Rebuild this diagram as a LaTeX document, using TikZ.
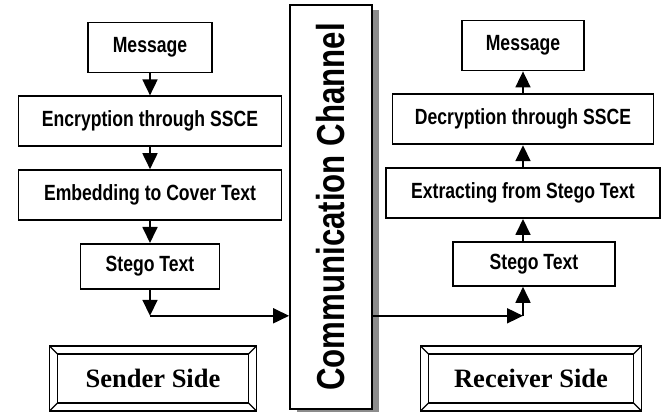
\documentclass[tikz,border=0pt]{standalone}
\usepackage{fontspec}
\setmainfont{Liberation Serif}
\newfontfamily\narrowsans[FakeStretch=0.8]{Liberation Sans}
\usetikzlibrary{arrows.meta, positioning, calc, shadows}

\begin{document}
\begin{tikzpicture}[
    x=1pt, y=1pt,
    box/.style={rectangle, draw=black, line width=1.8pt, minimum height=50pt, inner sep=2pt, align=center, font=\narrowsans\bfseries\fontsize{22}{24}\selectfont},
    arrow/.style={-{Triangle[length=16pt,width=15pt]}, line width=1.8pt},
    side/.style={rectangle, draw=black, line width=1.2pt, outer sep=0pt, minimum height=49pt, font=\bfseries\fontsize{26.5}{30}\selectfont},
    frame/.style={line width=1.2pt},
    channel/.style={rectangle, draw=black, fill=white, line width=1.8pt, minimum width=82pt, minimum height=404pt, font=\narrowsans\bfseries\fontsize{39}{40}\selectfont, drop shadow={shadow xshift=7pt, shadow yshift=-5pt, fill=black!45, opacity=1}}
]
\useasboundingbox (0,0) rectangle (664,412);

% ==========================================
% CANAL
% ==========================================
\node[channel] (comm) at (331,205) {\rotatebox{90}{Communication Channel}};

% ==========================================
% IZQUIERDA: EMISOR
% ==========================================
\node[box, minimum width=124pt] (msgL) at (150,364.5) {Message};
\node[box, minimum width=263pt, below=22pt of msgL] (encL) {Encryption through SSCE};
\node[box, minimum width=263pt, below=22pt of encL] (embL) {Embedding to Cover Text};
\node[box, minimum width=139pt, minimum height=45pt, below=22pt of embL] (stegoL) {Stego Text};

\foreach \i/\j in {msgL/encL,encL/embL,embL/stegoL} {
    \draw[arrow] (\i) -- (\j);
}

\coordinate (bendL) at ($(stegoL.south)+(0,-26)$);
\draw[arrow] (stegoL.south) -- (bendL);
\draw[arrow] (bendL) -- (bendL -| comm.west);

% ==========================================
% DERECHA: RECEPTOR
% ==========================================
\node[box, minimum width=122pt] (msgR) at (523,366.5) {Message};
\node[box, minimum width=261pt, below=22pt of msgR] (decR) {Decryption through SSCE};
\node[box, minimum width=274pt, below=22pt of decR] (extR) {Extracting from Stego Text};
\node[box, minimum width=162pt, minimum height=44pt, below=22pt of extR, xshift=11pt] (stegoR) {Stego Text};

\foreach \i/\j in {extR/decR,decR/msgR} {
    \draw[arrow] (\i) -- (\j);
}
\draw[arrow] (stegoR.north -| extR.south) -- (extR.south);

\coordinate (bendR) at (bendL -| extR.south);
\draw[arrow] (comm.east |- bendR) -- (bendR);
\draw[arrow] (bendR) -- (bendR |- stegoR.south);

% Marcos biselados
\node[side, minimum width=191pt] (sender) at (153,33.5) {Sender Side};
\node[side, minimum width=205pt] (receiver) at (531,33.5) {Receiver Side};
\foreach \n in {sender,receiver} {
    \draw[frame] ($(\n.south west)+(-8,-8)$) rectangle ($(\n.north east)+(8,8)$);
    \foreach \c/\dx/\dy in {north west/-8/8, north east/8/8, south east/8/-8, south west/-8/-8} {
        \draw[frame] (\n.\c) -- ++(\dx,\dy);
    }
}

\end{tikzpicture}
\end{document}
